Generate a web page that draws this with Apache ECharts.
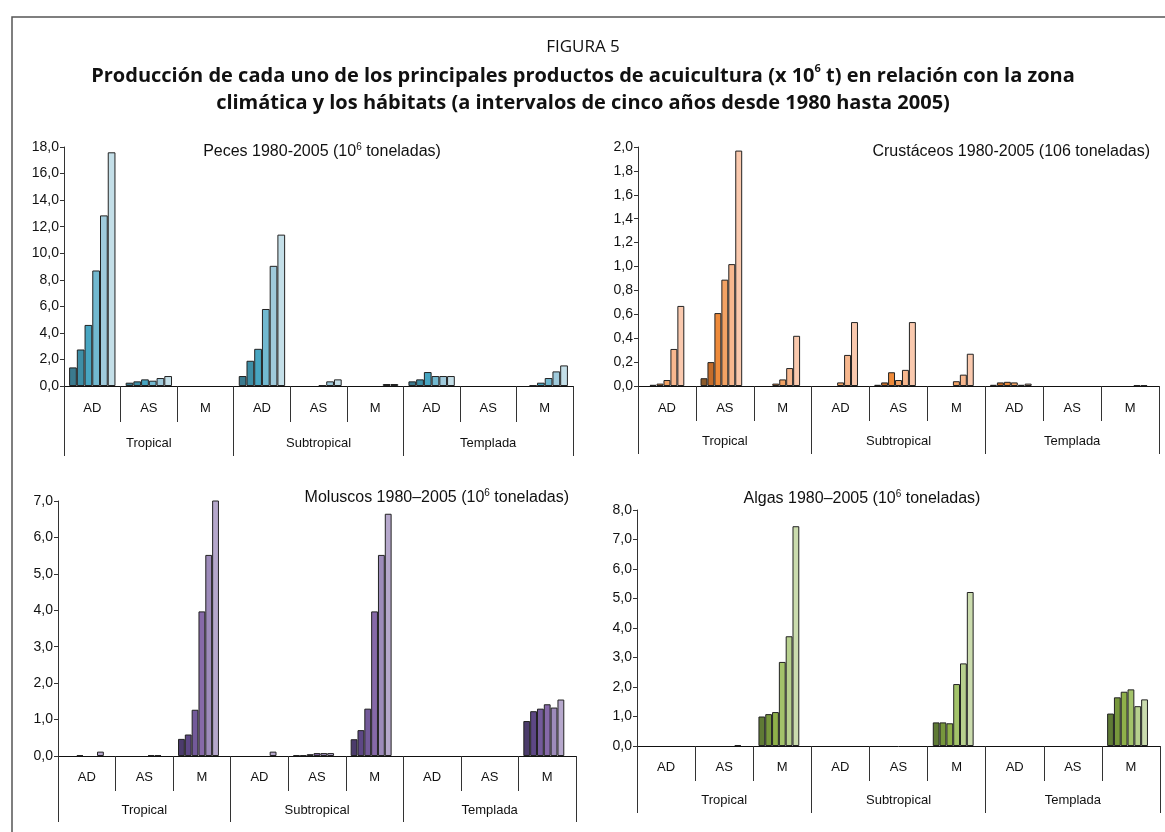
<!DOCTYPE html>
<html><head><meta charset="utf-8">
<script src="https://cdn.jsdelivr.net/npm/echarts/dist/echarts.min.js"></script>
<style>html,body{margin:0;padding:0;background:#fff}#c{width:1165px;height:832px}</style>
</head><body><div id="c"></div>
<script>
// ---------- data ----------
const categories = ['AD','AS','M','AD','AS','M','AD','AS','M'];
const zones = ['Tropical','Subtropical','Templada'];
const years = ['1980','1985','1990','1995','2000','2005'];

// Peces (10^6 t) per year, in category order
const peces1980 = [1.4, 0.25, 0, 0.75, 0, 0, 0.35, 0, 0];
const peces1985 = [2.75, 0.35, 0, 1.9, 0, 0, 0.5, 0, 0.05];
const peces1990 = [4.6, 0.5, 0, 2.8, 0, 0, 1.05, 0, 0.25];
const peces1995 = [8.7, 0.4, 0, 5.8, 0.05, 0, 0.75, 0, 0.6];
const peces2000 = [12.85, 0.6, 0, 9.05, 0.35, 0.15, 0.75, 0, 1.1];
const peces2005 = [17.6, 0.75, 0, 11.4, 0.5, 0.15, 0.75, 0, 1.55];

// Crustáceos
const crus1980 = [0, 0.065, 0, 0, 0.01, 0, 0.01, 0, 0];
const crus1985 = [0.01, 0.2, 0, 0, 0.03, 0, 0.03, 0, 0];
const crus1990 = [0.02, 0.61, 0.02, 0, 0.115, 0, 0.035, 0, 0];
const crus1995 = [0.05, 0.89, 0.055, 0.03, 0.05, 0.04, 0.03, 0, 0];
const crus2000 = [0.31, 1.02, 0.15, 0.26, 0.135, 0.095, 0.01, 0, 0.006];
const crus2005 = [0.67, 1.97, 0.42, 0.535, 0.535, 0.27, 0.02, 0, 0.006];

// Moluscos
const mol1980 = [0, 0, 0.47, 0, 0.02, 0.46, 0, 0, 0.96];
const mol1985 = [0, 0, 0.59, 0, 0.02, 0.71, 0, 0, 1.23];
const mol1990 = [0.02, 0, 1.27, 0, 0.05, 1.3, 0, 0, 1.3];
const mol1995 = [0, 0, 3.97, 0, 0.08, 3.97, 0, 0, 1.42];
const mol2000 = [0, 0.02, 5.52, 0, 0.08, 5.52, 0, 0, 1.33];
const mol2005 = [0.12, 0.02, 7.05, 0.12, 0.08, 6.65, 0, 0, 1.55];

// Algas
const alg1980 = [0, 0, 1.0, 0, 0, 0.8, 0, 0, 1.1];
const alg1985 = [0, 0, 1.08, 0, 0, 0.8, 0, 0, 1.65];
const alg1990 = [0, 0, 1.15, 0, 0, 0.77, 0, 0, 1.84];
const alg1995 = [0, 0, 2.85, 0, 0, 2.1, 0, 0, 1.92];
const alg2000 = [0, 0, 3.72, 0, 0, 2.8, 0, 0, 1.35];
const alg2005 = [0, 0.03, 7.45, 0, 0, 5.22, 0, 0, 1.58];

// ---------- styling ----------
const pecesColors = ['#3b7a8e','#3e8ea6','#47a5c1','#72b9d0','#9fcadb','#c4dfe8'];
const crusColors  = ['#8b5a2b','#c46c2a','#ee8a3a','#f2a264','#f7b78e','#fac9ae'];
const molColors   = ['#4b3b6b','#5d4785','#735a9a','#8669a8','#9d8bba','#b6a8cc'];
const algColors   = ['#5f7a35','#77973c','#8fb04a','#a3c36a','#b7d08e','#cbdcae'];

const FONT = 'Liberation Sans';
const grid = [], xAxis = [], yAxis = [], series = [];

function fmt(v){ return v.toFixed(1).replace('.', ','); }

function panel(cfg){
  const gi = grid.length;
  grid.push({left: cfg.left, top: cfg.top, width: cfg.width, height: cfg.height});
  const xi = xAxis.length;
  xAxis.push({
    gridIndex: gi, type: 'category', data: categories, position: 'bottom',
    axisLine: {show: true, lineStyle: {color: '#111', width: 1}},
    axisTick: {show: true, interval: 0, length: cfg.tick1, lineStyle: {color: '#333', width: 1}},
    axisLabel: {interval: 0, margin: cfg.m1, fontSize: 13, color: '#111', fontFamily: FONT},
    splitLine: {show: false}
  });
  xAxis.push({
    gridIndex: gi, type: 'category', data: zones, position: 'bottom',
    axisLine: {show: false},
    axisTick: {show: true, interval: 0, length: cfg.tick2, lineStyle: {color: '#333', width: 1}},
    axisLabel: {interval: 0, margin: cfg.m2, fontSize: 13, color: '#111', fontFamily: FONT},
    splitLine: {show: false}
  });
  yAxis.push({
    gridIndex: gi, type: 'value', min: 0, max: cfg.max, interval: cfg.step,
    axisLine: {show: true, lineStyle: {color: '#333', width: 1}},
    axisTick: {show: true, length: 4, lineStyle: {color: '#333'}},
    axisLabel: {formatter: fmt, fontSize: 14, color: '#111', fontFamily: FONT, margin: 5},
    splitLine: {show: false}
  });
  cfg.data.forEach((arr, k) => {
    series.push({
      type: 'bar', name: years[k], xAxisIndex: xi, yAxisIndex: gi,
      data: arr.map(v => v === 0 ? '-' : v),
      barGap: '0%', barCategoryGap: cfg.gap,
      itemStyle: {color: cfg.colors[k], borderColor: '#222', borderWidth: 1},
      silent: true, animation: false
    });
  });
  if (cfg.slots > cfg.data.length) {
    // empty slot kept by the original chart layout
    series.push({
      type: 'bar', name: 'vacío', xAxisIndex: xi, yAxisIndex: gi,
      data: categories.map(() => '-'), barGap: '0%', barCategoryGap: cfg.gap, animation: false
    });
  }
}

panel({left: 64, top: 147, width: 509, height: 239, max: 18, step: 2,
  tick1: 36, tick2: 70, m1: 16, m2: 51, gap: '18%', slots: 6,
  data: [peces1980, peces1985, peces1990, peces1995, peces2000, peces2005], colors: pecesColors});
panel({left: 638, top: 147, width: 521, height: 239, max: 2, step: 0.2,
  tick1: 35, tick2: 68, m1: 16, m2: 49, gap: '16%', slots: 7,
  data: [crus1980, crus1985, crus1990, crus1995, crus2000, crus2005], colors: crusColors});
panel({left: 58, top: 501, width: 518, height: 255, max: 7, step: 1,
  tick1: 35, tick2: 66, m1: 15, m2: 48, gap: '17%', slots: 7,
  data: [mol1980, mol1985, mol1990, mol1995, mol2000, mol2005], colors: molColors});
panel({left: 637, top: 510, width: 523, height: 236, max: 8, step: 1,
  tick1: 35, tick2: 67, m1: 15, m2: 48, gap: '18%', slots: 7,
  data: [alg1980, alg1985, alg1990, alg1995, alg2000, alg2005], colors: algColors});

function supText(x, y, pre, post, align, size){
  return {type: 'text', x: x, y: y, silent: true, style: {
    text: '{a|' + pre + '}{s|6}{a|' + post + '}',
    align: align, verticalAlign: 'middle',
    rich: {
      a: {fontSize: size, fontFamily: FONT, fill: '#111', lineHeight: size + 4},
      s: {fontSize: Math.round(size * 0.6), fontFamily: FONT, fill: '#111', verticalAlign: 'top', lineHeight: Math.round(size*0.6)+2}
    }
  }};
}

const graphic = [
  {type: 'rect', silent: true, z: -10, shape: {x: 12, y: 17, width: 1300, height: 1000},
   style: {fill: 'none', stroke: '#555', lineWidth: 1.5}},
  {type: 'text', x: 583, y: 47, silent: true, style: {text: 'FIGURA 5', align: 'center', verticalAlign: 'middle',
    fontSize: 17, fontFamily: 'Open Sans', fill: '#111'}},
  {type: 'text', x: 583, y: 76, silent: true, style: {
    text: '{b|Producción de cada uno de los principales productos de acuicultura (x 10}{s|6}{b| t) en relación con la zona}',
    align: 'center', verticalAlign: 'middle',
    rich: {b: {fontSize: 20, fontWeight: 'bold', fontFamily: 'Open Sans', fill: '#111', lineHeight: 25},
           s: {fontSize: 11, fontWeight: 'bold', fontFamily: 'Open Sans', fill: '#111', verticalAlign: 'top', lineHeight: 13}}}},
  {type: 'text', x: 583, y: 103, silent: true, style: {
    text: 'climática y los hábitats (a intervalos de cinco años desde 1980 hasta 2005)',
    align: 'center', verticalAlign: 'middle', fontSize: 20, fontWeight: 'bold', fontFamily: 'Open Sans', fill: '#111'}},
  supText(322, 152, 'Peces 1980-2005 (10', ' toneladas)', 'center', 16),
  {type: 'text', x: 1150, y: 152, silent: true, style: {text: 'Crustáceos 1980-2005 (106 toneladas)',
    align: 'right', verticalAlign: 'middle', fontSize: 16, fontFamily: FONT, fill: '#111'}},
  supText(569, 498, 'Moluscos 1980–2005 (10', ' toneladas)', 'right', 16),
  supText(862, 499, 'Algas 1980–2005 (10', ' toneladas)', 'center', 16)
];

const chart = echarts.init(document.getElementById('c'), null, {renderer: 'canvas'});
chart.setOption({animation: false, backgroundColor: '#fff', grid, xAxis, yAxis, series, graphic});
</script></body></html>
